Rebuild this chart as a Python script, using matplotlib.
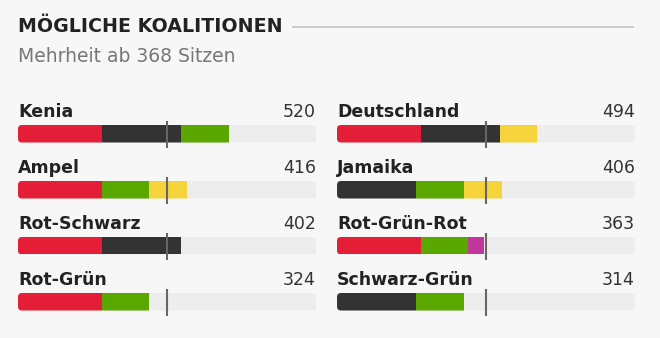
import matplotlib.pyplot as plt
from matplotlib.patches import FancyBboxPatch

# seats per party
parties = ['SPD', 'CDU/CSU', 'Grüne', 'FDP', 'Linke']
seats = [206, 196, 118, 92, 39]
party_colors = ['#e41e36', '#333333', '#5aa700', '#f4d43a', '#c0389c']

TOTAL_SEATS = 735
MAJORITY = 368

# two columns of coalitions, parties listed in bar order
left_names = ['Kenia', 'Ampel', 'Rot-Schwarz', 'Rot-Grün']
left_members = [['SPD', 'CDU/CSU', 'Grüne'], ['SPD', 'Grüne', 'FDP'],
                ['SPD', 'CDU/CSU'], ['SPD', 'Grüne']]
right_names = ['Deutschland', 'Jamaika', 'Rot-Grün-Rot', 'Schwarz-Grün']
right_members = [['SPD', 'CDU/CSU', 'FDP'], ['CDU/CSU', 'Grüne', 'FDP'],
                 ['SPD', 'Grüne', 'Linke'], ['CDU/CSU', 'Grüne']]

seat_of = dict(zip(parties, seats))
color_of = dict(zip(parties, party_colors))

W, H = 660, 338
BG = '#f7f7f7'
TRACK = '#ededee'

fig = plt.figure(figsize=(W / 100, H / 100), dpi=100, facecolor=BG)


def px_axes(x0, y0, w, h):
    # axes placed in pixel units measured from the top-left corner
    return fig.add_axes([x0 / W, 1 - (y0 + h) / H, w / W, h / H])


# header
hdr = px_axes(0, 0, W, 80)
hdr.set_xlim(0, W)
hdr.set_ylim(80, 0)
hdr.axis('off')
hdr.text(18, 27, 'MÖGLICHE KOALITIONEN', fontsize=13.7, fontweight='bold',
         color='#222222', va='center', ha='left')
hdr.plot([292, 634], [27, 27], color='#c9c9c9', lw=1.3, solid_capstyle='butt')
hdr.text(18, 56, 'Mehrheit ab 368 Sitzen', fontsize=13.5, color='#777777',
         va='center', ha='left')

ROW = 56
BAR_H = 17.5
COL_W = 298
AX_TOP = 95
AX_H = 225


def draw_column(x0, names, members):
    ax = px_axes(x0, AX_TOP, COL_W, AX_H)
    ax.set_xlim(0, TOTAL_SEATS)
    ax.set_ylim(AX_H, 0)
    ax.axis('off')
    unit = COL_W / TOTAL_SEATS  # pixels per seat
    radius = 4
    for i, (name, mem) in enumerate(zip(names, members)):
        top = 30 + ROW * i
        total = sum(seat_of[p] for p in mem)
        track = FancyBboxPatch((0, top), TOTAL_SEATS, BAR_H,
                               boxstyle=f'round,pad=0,rounding_size={radius / unit}',
                               mutation_aspect=unit, facecolor=TRACK,
                               edgecolor='none', zorder=1)
        ax.add_patch(track)
        left = 0
        for p in mem:
            bars = ax.barh(top, seat_of[p], left=left, height=BAR_H,
                           align='edge', color=color_of[p], lw=0, zorder=2)
            for b in bars:
                b.set_clip_path(track)
            left += seat_of[p]
        ax.plot([MAJORITY, MAJORITY], [top - 4, top + BAR_H + 5.5],
                color='#666666', lw=1.5, zorder=3, solid_capstyle='butt')
        ax.text(0, top - 8, name, fontsize=12.5, fontweight='bold',
                color='#222222', ha='left', va='baseline')
        ax.text(TOTAL_SEATS, top - 8, str(total), fontsize=12.5,
                color='#333333', ha='right', va='baseline')


draw_column(18, left_names, left_members)
draw_column(337, right_names, right_members)

fig.savefig('out.png', dpi=100, facecolor=BG)
